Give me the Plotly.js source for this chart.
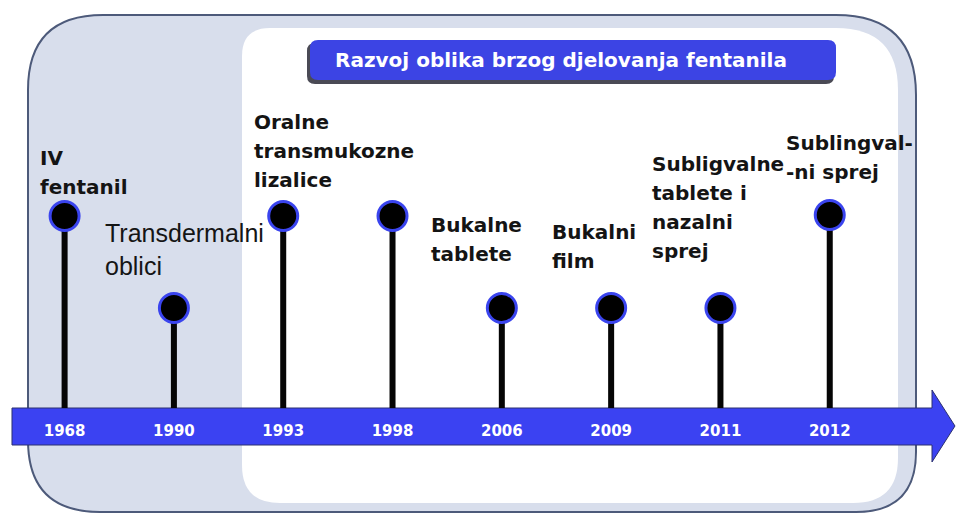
<!DOCTYPE html>
<html>
<head>
<meta charset="utf-8">
<script src="https://cdn.plot.ly/plotly-3.0.1.min.js"></script>
<style>html,body{margin:0;padding:0;background:#fff}#chart{width:956px;height:516px}</style>
</head>
<body>
<div id="chart"></div>
<script>
// ---- data ----
const years = ["1968", "1990", "1993", "1998", "2006", "2009", "2011", "2012"];
const stemHeight = [1.92, 1.0, 1.92, 1.92, 1.0, 1.0, 1.0, 1.93];
const events = [
  "IV<br>fentanil",
  "Transdermalni<br>oblici",
  "Oralne<br>transmukozne<br>lizalice",
  "",
  "Bukalne<br>tablete",
  "Bukalni<br>film",
  "Subligvalne<br>tablete i<br>nazalni<br>sprej",
  "Sublingval-<br>-ni sprej"
];
const chartTitle = "Razvoj oblika brzog djelovanja fentanila";

// ---- styling / layout helpers ----
const W = 956, H = 516, PB = 408;           // plot bottom (timeline axis) in px
const X = p => p / W;
const Y = p => (PB - p) / PB;
function rr(x0, y0, x1, y1, r) {
  const [tl, tr, br, bl] = r;
  const pt = (x, y) => X(x).toFixed(5) + "," + Y(y).toFixed(5);
  return "M" + pt(x0 + tl, y0) + " L" + pt(x1 - tr, y0) + " Q" + pt(x1, y0) + " " + pt(x1, y0 + tr) +
    " L" + pt(x1, y1 - br) + " Q" + pt(x1, y1) + " " + pt(x1 - br, y1) +
    " L" + pt(x0 + bl, y1) + " Q" + pt(x0, y1) + " " + pt(x0, y1 - bl) +
    " L" + pt(x0, y0 + tl) + " Q" + pt(x0, y0) + " " + pt(x0 + tl, y0) + " Z";
}
function poly(pts) {
  return "M" + pts.map(p => X(p[0]).toFixed(5) + "," + Y(p[1]).toFixed(5)).join(" L") + " Z";
}

// per-label text nudges (styling only)
const labelDX = [-27, -71, -31, 0, -73, -61, -70, -46];
const labelDY = [58, 75, 94, 0, 83, 76, 144, 72];
const thinFont = {family: "Liberation Sans, Arial, sans-serif", size: 25, color: "#151515"};
const boldFont = {family: "DejaVu Sans, Verdana, sans-serif", size: 20, color: "#141414", weight: "bold"};

const shapes = [
  {type: "path", xref: "paper", yref: "paper", layer: "below", path: rr(28, 15, 916, 512, [75, 80, 60, 72]),
   fillcolor: "#d8deec", line: {color: "#4d5a7a", width: 2}},
  {type: "path", xref: "paper", yref: "paper", layer: "below", path: rr(242, 28, 898, 503, [28, 62, 45, 38]),
   fillcolor: "#ffffff", line: {width: 0}},
  {type: "path", xref: "paper", yref: "paper", layer: "below", path: rr(307, 43, 834, 84, [8, 8, 8, 8]),
   fillcolor: "#4a4a55", line: {width: 0}},
  {type: "path", xref: "paper", yref: "paper", layer: "below", path: rr(310, 40, 836, 80, [8, 8, 8, 8]),
   fillcolor: "#3c44e4", line: {width: 0}},
  {type: "path", xref: "paper", yref: "paper", layer: "below",
   path: poly([[12, 408], [932, 408], [932, 390], [955, 426], [932, 462], [932, 445], [12, 445]]),
   fillcolor: "#3b42f2", line: {color: "#2c3170", width: 1}}
];

const annotations = [];
events.forEach((t, i) => {
  if (!t) return;
  const font = (i === 1) ? thinFont : boldFont;
  const gap = (i === 1) ? 33 : 29;
  t.split("<br>").forEach((line, k) => {
    annotations.push({
      x: i, y: stemHeight[i], xref: "x", yref: "y",
      text: line, showarrow: false, xanchor: "left", yanchor: "middle", align: "left",
      xshift: labelDX[i], yshift: labelDY[i] - k * gap,
      font: font
    });
  });
});

const traces = [
  {type: "bar", x: years, y: stemHeight, width: 0.055,
   marker: {color: "#050505", line: {width: 0}}, hoverinfo: "skip"},
  {type: "scatter", mode: "markers", x: years, y: stemHeight,
   marker: {size: 29, color: "#000000", line: {color: "#3a44ee", width: 3}}, hoverinfo: "skip"}
];

const layout = {
  width: W, height: H,
  margin: {l: 0, r: 0, t: 0, b: H - PB, pad: 0},
  paper_bgcolor: "#ffffff", plot_bgcolor: "rgba(0,0,0,0)",
  showlegend: false,
  title: {text: chartTitle, x: 561 / W, xanchor: "center", y: 1 - 60 / H, yanchor: "middle",
          font: {family: "DejaVu Sans, Verdana, sans-serif", size: 20, color: "#ffffff", weight: "bold"}},
  xaxis: {type: "category", categoryorder: "array", categoryarray: years,
          range: [-0.591, 8.155], showgrid: false, zeroline: false, showline: false, ticks: "",
          ticklabelstandoff: 12,
          tickfont: {family: "DejaVu Sans, Verdana, sans-serif", size: 15, color: "#ffffff", weight: "bold"},
          fixedrange: true},
  yaxis: {range: [0, 4.08], visible: false, fixedrange: true},
  shapes: shapes,
  annotations: annotations
};

Plotly.newPlot("chart", traces, layout, {staticPlot: true, displayModeBar: false});
</script>
</body>
</html>
